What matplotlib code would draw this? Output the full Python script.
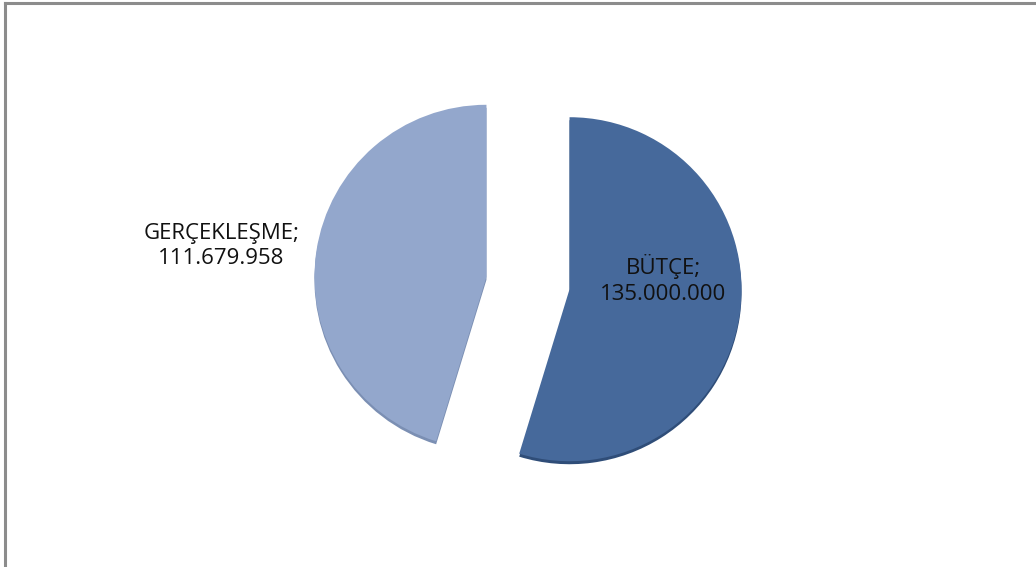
import math
import matplotlib.pyplot as plt
from matplotlib.lines import Line2D

# veriler
kategoriler = ["BÜTÇE", "GERÇEKLEŞME"]
degerler = [135000000, 111679958]
renkler = ["#46699b", "#93a7cc"]
golge_renkler = ["#2f4d78", "#7b8fb3"]

def tr_format(v):
    return "{:,}".format(v).replace(",", ".")

W, H = 1036, 567
fig = plt.figure(figsize=(W / 100, H / 100), dpi=100)
ax = fig.add_axes([0, 0, 1, 1])

merkez = (528, 284)
yaricap = 172
patlat = [42, 42]

# hafif 3B kenar (golge)
ax.pie(degerler, startangle=90, counterclock=False, explode=patlat,
       radius=yaricap, center=(merkez[0], merkez[1] - 3), colors=golge_renkler,
       frame=True, wedgeprops=dict(linewidth=0))
wedges, _ = ax.pie(degerler, startangle=90, counterclock=False, explode=patlat,
                   radius=yaricap, center=merkez, colors=renkler, frame=True,
                   wedgeprops=dict(linewidth=0))
ax.set_xlim(0, W)
ax.set_ylim(0, H)
ax.set_aspect("equal")
ax.axis("off")

# etiketler
uzaklik = [0.55, 1.56]
kayma = [24, -9]
for w, ad, v, d, k in zip(wedges, kategoriler, degerler, uzaklik, kayma):
    tm = math.radians((w.theta1 + w.theta2) / 2)
    cx, cy = w.center
    x = cx + d * yaricap * math.cos(tm)
    y = cy + d * yaricap * math.sin(tm) + k
    ax.text(x, y, ad + ";\n" + tr_format(v), ha="center", va="center",
            fontsize=16, family="Open Sans", color="#111111", linespacing=1.3)

# cerceve
fig.add_artist(Line2D([4.5 / W, 1], [1 - 2.5 / H, 1 - 2.5 / H], color="#8c8c8c", lw=2.2,
                      transform=fig.transFigure))
fig.add_artist(Line2D([4.5 / W, 4.5 / W], [0, 1 - 2.5 / H], color="#8c8c8c", lw=2.2,
                      transform=fig.transFigure))

fig.savefig("out.png", dpi=100)
